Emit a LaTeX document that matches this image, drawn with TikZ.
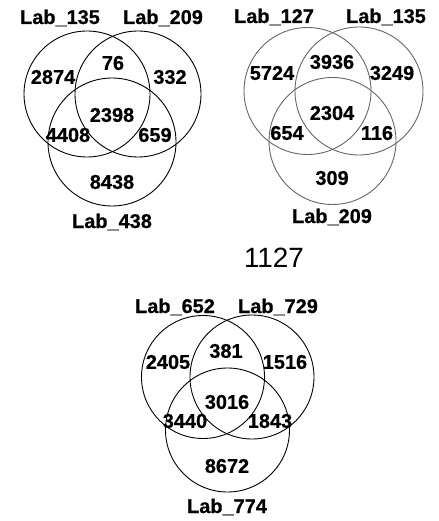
\documentclass[tikz,border=0pt]{standalone}
\usepackage{fontspec}
\setmainfont{Liberation Sans}
\newfontfamily\heavyface[FakeBold=0.6]{Liberation Sans Bold}
\begin{document}
\begin{tikzpicture}[x=1bp,y=-1bp,
  ring/.style={draw=black,line width=0.9bp},
  greyring/.style={draw=black!60,line width=0.9bp},
  count/.style={font=\fontsize{20}{21}\heavyface,inner sep=0pt},
  setname/.style={font=\fontsize{20}{21}\heavyface,inner sep=0pt},
  caption/.style={font=\fontsize{28}{30}\selectfont,inner sep=0pt}]
\useasboundingbox (0,0) rectangle (439,521);
% first diagram
\draw[ring] (87,94) circle (63);
\draw[ring] (138,94) circle (63);
\draw[ring] (112,142) circle (64);
\node[setname] (a1) at (60,18) {Lab\_135};
\node[setname] (a2) at (163,18) {Lab\_209};
\node[setname] (a3) at (112,222) {Lab\_438};
\node[count] (a4) at (53,77) {2874};
\node[count] (a5) at (113,63) {76};
\node[count] (a6) at (170,77) {332};
\node[count] (a7) at (112,115) {2398};
\node[count] (a8) at (68,135) {4408};
\node[count] (a9) at (155,135) {659};
\node[count] (a10) at (112,182) {8438};
% second diagram
\draw[greyring] (307.5,91) circle (63.5);
\draw[greyring] (359,91) circle (64);
\draw[greyring] (332.5,141) circle (63.5);
\node[setname] (b1) at (274,17) {Lab\_127};
\node[setname] (b2) at (386,17) {Lab\_135};
\node[setname] (b3) at (332,217) {Lab\_209};
\node[count] (b4) at (272,73) {5724};
\node[count] (b5) at (332,62) {3936};
\node[count] (b6) at (392,73) {3249};
\node[count] (b7) at (332,113) {2304};
\node[count] (b8) at (287,133) {654};
\node[count] (b9) at (377,133) {116};
\node[count] (b10) at (332,178) {309};
\node[caption] (c) at (274,258) {1127};
% third diagram
\draw[ring] (203,377) circle (61.5);
\draw[ring] (252,377) circle (62);
\draw[ring] (227.5,430) circle (62);
\node[setname] (d1) at (175,307) {Lab\_652};
\node[setname] (d2) at (278,307) {Lab\_729};
\node[setname] (d3) at (227,507) {Lab\_774};
\node[count] (d4) at (168,362) {2405};
\node[count] (d5) at (226,351) {381};
\node[count] (d6) at (285,362) {1516};
\node[count] (d7) at (227,402) {3016};
\node[count] (d8) at (185,421) {3440};
\node[count] (d9) at (270,421) {1843};
\node[count] (d10) at (227,466) {8672};
\end{tikzpicture}
\end{document}
